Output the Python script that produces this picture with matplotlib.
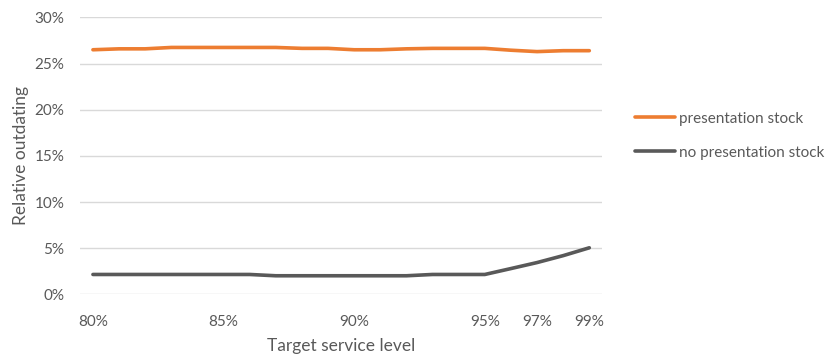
import numpy as np
import matplotlib.pyplot as plt
from matplotlib.ticker import PercentFormatter

plt.rcParams['font.family'] = ['Lato', 'DejaVu Sans']

# target service levels (%), one point per level
service_level = list(range(80, 100))
tick_levels = [80, 85, 90, 95, 97, 99]

# relative outdating (%)
presentation_stock = [26.5, 26.6, 26.6, 26.75, 26.75, 26.75, 26.75, 26.75, 26.65, 26.65,
                      26.5, 26.5, 26.6, 26.65, 26.65, 26.65, 26.45, 26.3, 26.4, 26.4]
no_presentation_stock = [2.16, 2.16, 2.16, 2.16, 2.16, 2.16, 2.16, 2.02, 2.02, 2.02,
                         2.02, 2.02, 2.02, 2.16, 2.16, 2.16, 2.8, 3.45, 4.2, 5.05]

text_col = '#595959'

fig = plt.figure(figsize=(8.32, 3.56), dpi=100)
ax = fig.add_axes([0.096, 0.173, 0.628, 0.778])

ax.plot(service_level, presentation_stock, color='#ED7D31', lw=2.6,
        solid_capstyle='round', label='presentation stock')
ax.plot(service_level, no_presentation_stock, color='#595959', lw=2.6,
        solid_capstyle='round', label='no presentation stock')

ax.set_xlim(79.5, 99.5)
ax.set_ylim(0, 30)
ax.set_yticks(np.arange(0, 31, 5))
ax.yaxis.set_major_formatter(PercentFormatter(decimals=0))
ax.set_xticks(tick_levels)
ax.set_xticklabels([f"{t}%" for t in tick_levels])

for s in ax.spines.values():
    s.set_visible(False)
ax.grid(axis='y', color='#D9D9D9', lw=1)
ax.set_axisbelow(True)
ax.tick_params(length=0, labelsize=11, colors=text_col)
ax.tick_params(axis='x', pad=15)
ax.tick_params(axis='y', pad=11)

ax.set_xlabel('Target service level', fontsize=12.5, color=text_col, labelpad=6)
ax.set_ylabel('Relative outdating', fontsize=12.5, color=text_col, labelpad=4)

fig.legend(loc='upper left', bbox_to_anchor=(0.747, 0.725), frameon=False,
           fontsize=11, labelcolor=text_col, handlelength=2.6, handletextpad=0.25,
           labelspacing=1.3)

plt.savefig('out.png', dpi=100)
